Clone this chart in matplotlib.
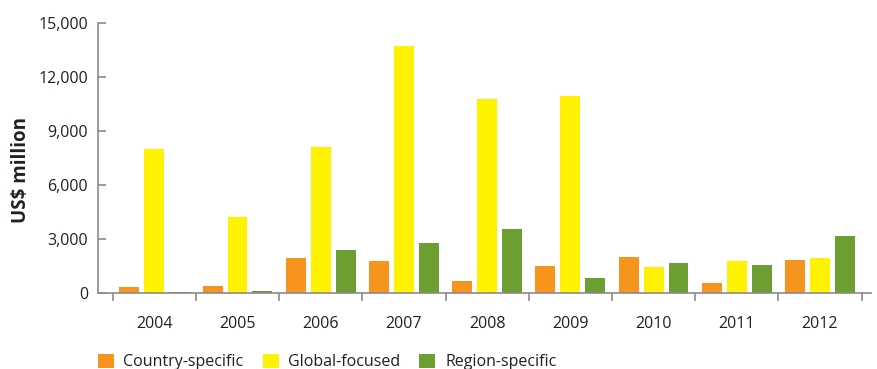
import numpy as np
import matplotlib.pyplot as plt
from matplotlib.ticker import FixedLocator, FuncFormatter

plt.rcParams['font.family'] = ['Open Sans', 'DejaVu Sans']

# commitments by year, US$ million
years = ["2004", "2005", "2006", "2007", "2008", "2009", "2010", "2011", "2012"]
country_specific = [330, 390, 1950, 1790, 670, 1510, 2010, 560, 1840]
global_focused = [8020, 4220, 8100, 13730, 10780, 10940, 1450, 1790, 1950]
region_specific = [60, 110, 2400, 2790, 3520, 840, 1680, 1560, 3180]

series = [
    ("Country-specific", country_specific, "#F7941D"),
    ("Global-focused", global_focused, "#FFF200"),
    ("Region-specific", region_specific, "#6D9E31"),
]

fig = plt.figure(figsize=(8.78, 3.69), dpi=100)
ax = fig.add_axes([0.1113, 0.2068, 0.8804, 0.7300])

x = np.arange(len(years))
width = 0.24
step = 0.30
handles = []
for i, (name, vals, col) in enumerate(series):
    h = ax.bar(x + (i - 1) * step, vals, width, color=col, label=name, zorder=2)
    handles.append(h)

ax.set_xlim(-0.68, 8.61)
ax.set_ylim(0, 15000)

for s in ["top", "right"]:
    ax.spines[s].set_visible(False)
for s in ["left", "bottom"]:
    ax.spines[s].set_color("#8a8a8a")
    ax.spines[s].set_linewidth(1.2)
    ax.spines[s].set_zorder(3)

ax.set_yticks(np.arange(0, 15001, 3000))
ax.yaxis.set_major_formatter(FuncFormatter(lambda v, p: f"{int(v):,}"))
ax.tick_params(axis="y", direction="in", length=6, width=1.2, color="#8a8a8a",
               labelsize=11.5, labelcolor="#231F20", pad=7)

# year labels sit between the tick marks
ax.set_xticks(x)
ax.set_xticklabels(years)
ax.xaxis.set_minor_locator(FixedLocator(np.arange(-0.5, len(years), 1.0)))
ax.tick_params(axis="x", which="major", length=0, labelsize=11.5,
               labelcolor="#231F20", pad=17)
ax.tick_params(axis="x", which="minor", direction="out", length=5.5,
               width=1.2, color="#8a8a8a")

fig.text(0.024, 0.54, "US$ million", rotation=90, ha="center", va="center",
         fontsize=13.5, fontweight="bold", color="#231F20")

fig.legend(handles=handles, loc="lower left", bbox_to_anchor=(0.095, -0.043),
           ncol=3, frameon=False, fontsize=11.5, handlelength=1.0,
           handleheight=1.0, handletextpad=0.6, columnspacing=1.2,
           labelcolor="#231F20")

fig.savefig("out.png", dpi=100)
